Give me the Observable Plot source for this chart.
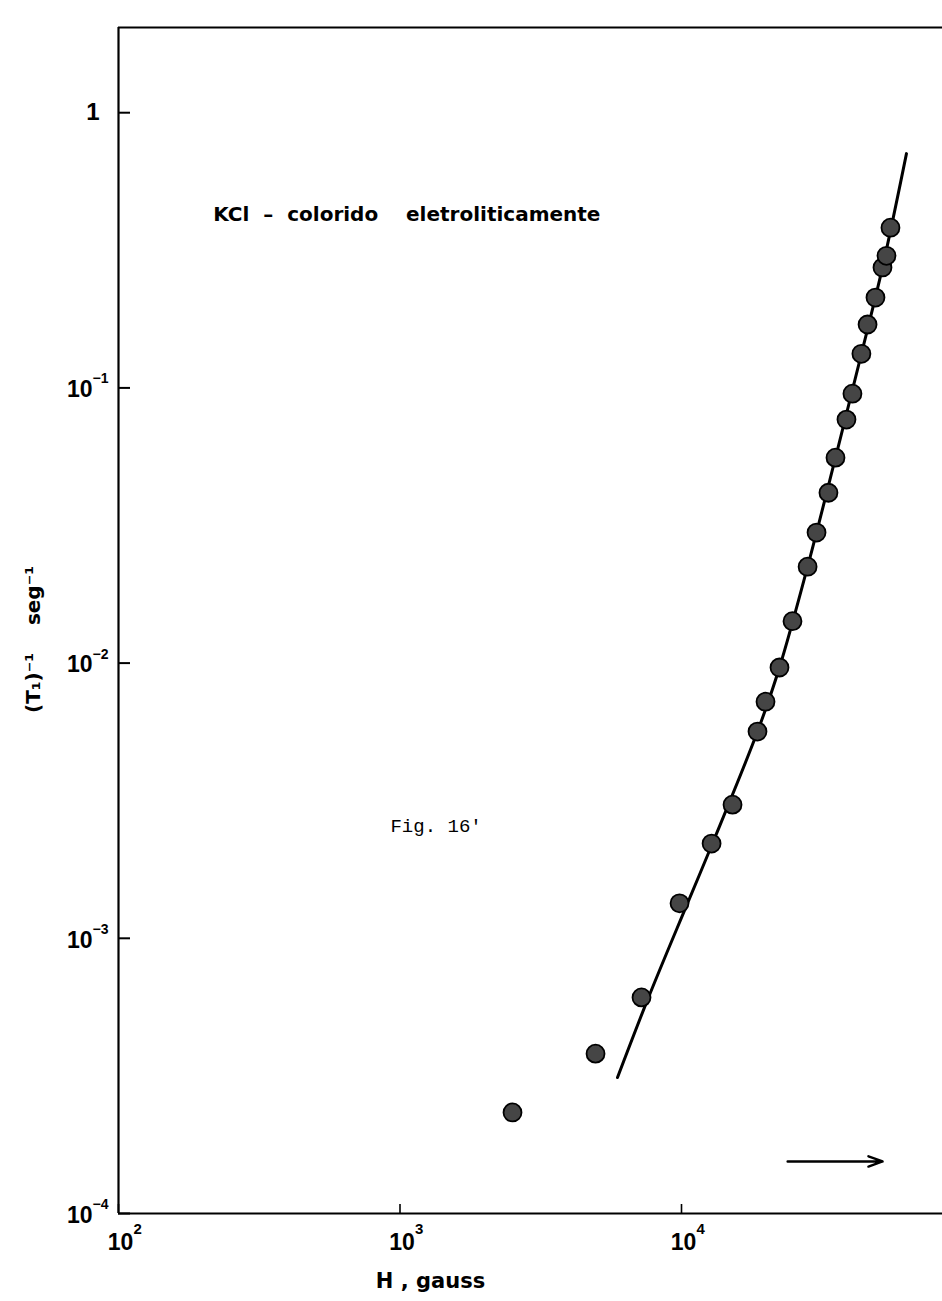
<!DOCTYPE html>
<html>
<head>
<meta charset="utf-8">
<script src="https://cdn.jsdelivr.net/npm/d3@7"></script>
<script src="https://cdn.jsdelivr.net/npm/@observablehq/plot@0.6"></script>
<style>
  html, body { margin: 0; padding: 0; background: #fff; }
  #chart svg { display: block; }
</style>
</head>
<body>
<div id="chart"></div>
<script>
// Measured points: H (gauss) vs (T1)^-1 (seg^-1)
const H = [2510, 4950, 7210, 9840, 12790, 15180, 18620, 19880, 22290, 24790, 28050,
           30180, 33270, 35240, 38550, 40480, 43560, 45810, 48870, 51760, 53480, 55250];
const T1inv = [2.33e-4, 3.81e-4, 6.10e-4, 1.34e-3, 2.21e-3, 3.06e-3, 5.64e-3, 7.24e-3,
               9.64e-3, 1.42e-2, 2.24e-2, 2.98e-2, 4.16e-2, 5.58e-2, 7.67e-2, 9.53e-2,
               0.133, 0.170, 0.213, 0.274, 0.302, 0.382];

// Drawn fitted curve
const fitH = [5924, 7634, 10500, 12880, 18620, 22290, 28050, 35240, 43560, 51760, 62970];
const fitT = [3.12e-4, 6.10e-4, 1.34e-3, 2.21e-3, 5.64e-3, 9.64e-3, 2.24e-2, 5.58e-2, 0.133, 0.274, 0.710];

// Axes
const xDomain = [100, 84560];
const yDomain = [1e-4, 2.04];
const xTicks = [1e2, 1e3, 1e4];
const xTickBase = ["10", "10", "10"];
const xTickExp = ["2", "3", "4"];
const yTicks = [1, 1e-1, 1e-2, 1e-3, 1e-4];
const yTickBase = ["1", "10", "10", "10", "10"];
const yTickExp = ["", "−1", "−2", "−3", "−4"];

// Annotations
const titleText = ["KCl  –  colorido    eletroliticamente"];
const titlePos = {x: 217, y: 0.426};
const figText = ["Fig. 16'"];
const figPos = {x: 925, y: 2.57e-3};
const arrowSeg = [{x1: 23830, x2: 51790, y: 1.546e-4}];
const xLabel = "H , gauss";
const yLabel = "(T₁)⁻¹    seg⁻¹";

const points = H.map((h, i) => ({H: h, T: T1inv[i]}));
const fit = fitH.map((h, i) => ({H: h, T: fitT[i]}));
const boldFont = "'DejaVu Sans', 'Liberation Sans', sans-serif";
const tickFont = "'Liberation Sans', Arial, sans-serif";

const chart = Plot.plot({
  width: 942,
  height: 1301,
  marginLeft: 118,
  marginRight: 0,
  marginTop: 27,
  marginBottom: 88,
  style: {fontFamily: boldFont, background: "#fff", color: "#000"},
  x: {type: "log", domain: xDomain, axis: null},
  y: {type: "log", domain: yDomain, axis: null},
  marks: [
    // frame: left, bottom, top
    Plot.ruleX([xDomain[0]], {stroke: "#000", strokeWidth: 2.2}),
    Plot.ruleY([yDomain[0]], {stroke: "#000", strokeWidth: 2.2}),
    Plot.ruleY([yDomain[1]], {stroke: "#000", strokeWidth: 2.2}),
    // inward ticks
    Plot.axisY(yTicks, {anchor: "left", tickSize: -12, strokeWidth: 2, fill: "none", label: null}),
    Plot.axisX(xTicks, {anchor: "bottom", tickSize: -9, strokeWidth: 1.6, fill: "none", label: null}),
    // y tick labels (base + raised exponent)
    Plot.text(yTicks, {y: (d) => d, frameAnchor: "left", text: (d, i) => yTickBase[i],
      filter: (d, i) => yTickExp[i] === "",
      textAnchor: "end", lineAnchor: "middle", dx: -19, fontSize: 24, fontWeight: "bold", fontFamily: tickFont}),
    Plot.text(yTicks, {y: (d) => d, frameAnchor: "left", text: (d, i) => yTickBase[i],
      filter: (d, i) => yTickExp[i] !== "",
      textAnchor: "end", lineAnchor: "middle", dx: -26, dy: 2, fontSize: 23, fontWeight: "bold", fontFamily: tickFont}),
    Plot.text(yTicks, {y: (d) => d, frameAnchor: "left", text: (d, i) => yTickExp[i],
      filter: (d, i) => yTickExp[i] !== "",
      textAnchor: "start", lineAnchor: "middle", dx: -26, dy: -9, fontSize: 14, fontWeight: "bold", fontFamily: tickFont}),
    // x tick labels
    Plot.text(xTicks, {x: (d) => d, frameAnchor: "bottom", text: (d, i) => xTickBase[i],
      textAnchor: "middle", lineAnchor: "middle", dx: 2, dy: 29, fontSize: 23, fontWeight: "bold", fontFamily: tickFont}),
    Plot.text(xTicks, {x: (d) => d, frameAnchor: "bottom", text: (d, i) => xTickExp[i],
      textAnchor: "start", lineAnchor: "middle", dx: 15, dy: 16, fontSize: 15, fontWeight: "bold", fontFamily: tickFont}),
    // fitted curve and data
    Plot.line(fit, {x: "H", y: "T", curve: "catmull-rom", stroke: "#000", strokeWidth: 3}),
    Plot.dot(points, {x: "H", y: "T", r: 9, fill: "#454545", stroke: "#000", strokeWidth: 1.8}),
    // annotations
    Plot.text(titleText, {x: () => titlePos.x, y: () => titlePos.y, textAnchor: "start",
      fontSize: 20, fontWeight: "bold", letterSpacing: "0.85px"}),
    Plot.text(figText, {x: () => figPos.x, y: () => figPos.y, textAnchor: "start",
      fontSize: 19, fontWeight: "normal", fontFamily: "'Liberation Mono', 'Courier New', monospace"}),
    Plot.arrow(arrowSeg, {x1: "x1", x2: "x2", y1: "y", y2: "y", stroke: "#000",
      strokeWidth: 2.5, headLength: 9, headAngle: 40}),
    // axis titles
    Plot.text([xLabel], {frameAnchor: "bottom", textAnchor: "middle", lineAnchor: "middle",
      dx: -100, dy: 68, fontSize: 21, fontWeight: "bold"}),
    Plot.text([yLabel], {frameAnchor: "left", textAnchor: "middle", lineAnchor: "middle",
      dx: -85, dy: 19, rotate: -90, fontSize: 20, fontWeight: "bold"})
  ]
});
document.getElementById("chart").appendChild(chart);
</script>
</body>
</html>
